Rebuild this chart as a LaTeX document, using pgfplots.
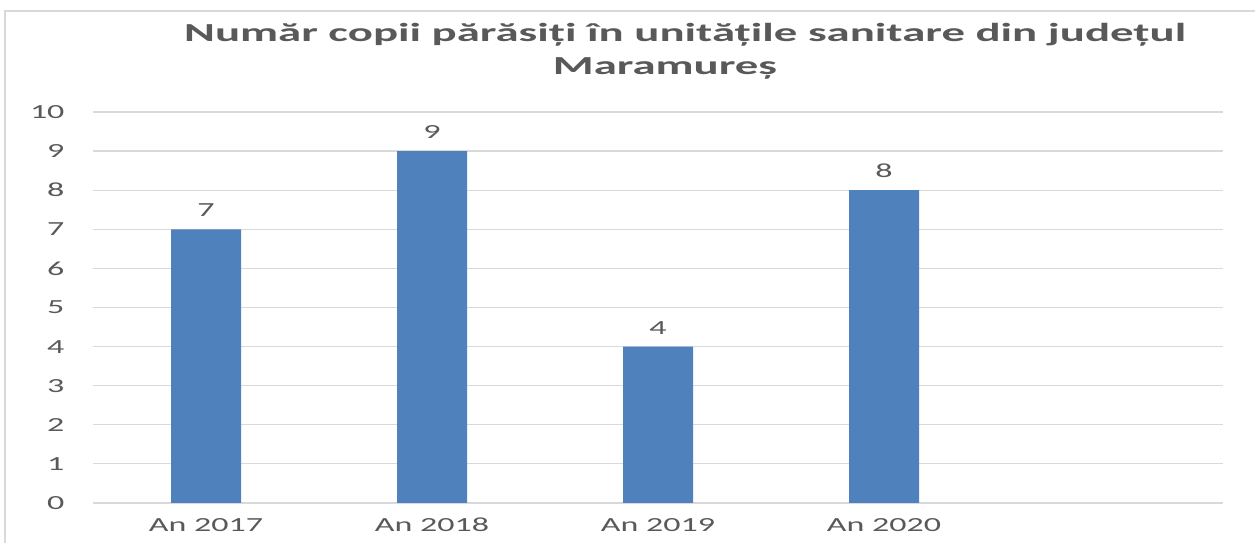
\documentclass[border=0pt]{standalone}
\usepackage{pgfplots}
\pgfplotsset{compat=1.18}
\usepackage{fontspec}
\setmainfont[FakeStretch=1.7]{Carlito}
\newfontfamily\titlefont[FakeStretch=1.8]{Carlito}
\definecolor{txt}{HTML}{595959}
\definecolor{gridc}{HTML}{D9D9D9}
\definecolor{barc}{HTML}{4F81BD}
\begin{document}
\begin{tikzpicture}[x=1pt,y=1pt]
\path[use as bounding box] (0,0) rectangle (1255,543);
\draw[gridc,line width=1.5pt] (5,0) -- (5,532) -- (1255,532);
\node[txt,font=\titlefont\fontsize{26}{33}\selectfont\bfseries] at (685,508) {Număr copii părăsiți în unitățile sanitare din județul};
\node[txt,font=\titlefont\fontsize{26}{33}\selectfont\bfseries] at (665,475) {Maramureș};
\begin{axis}[
  at={(93pt,40pt)}, anchor=south west, scale only axis,
  width=1130pt, height=391pt,
  xmin=-0.5, xmax=4.5, ymin=0, ymax=10,
  axis line style={draw=none},
  xtick={0,1,2,3}, xticklabels={An 2017,An 2018,An 2019,An 2020},
  ytick={0,...,10},
  major tick length=0pt,
  ymajorgrids, xmajorgrids=false, grid style={gridc,line width=1.2pt},
  tick label style={txt,font=\fontsize{20}{24}\selectfont},
  /pgf/number format/assume math mode=true,
  yticklabel style={xshift=-25pt},
  xticklabel style={yshift=-11pt,text height=14pt,text depth=4pt},
  ybar, bar width=70pt,
  nodes near coords,
  nodes near coords style={txt,font=\fontsize{20}{24}\selectfont,yshift=9pt},
]
\addplot[fill=barc,draw=none] coordinates {(0,7) (1,9) (2,4) (3,8)};
\end{axis}
\end{tikzpicture}
\end{document}
